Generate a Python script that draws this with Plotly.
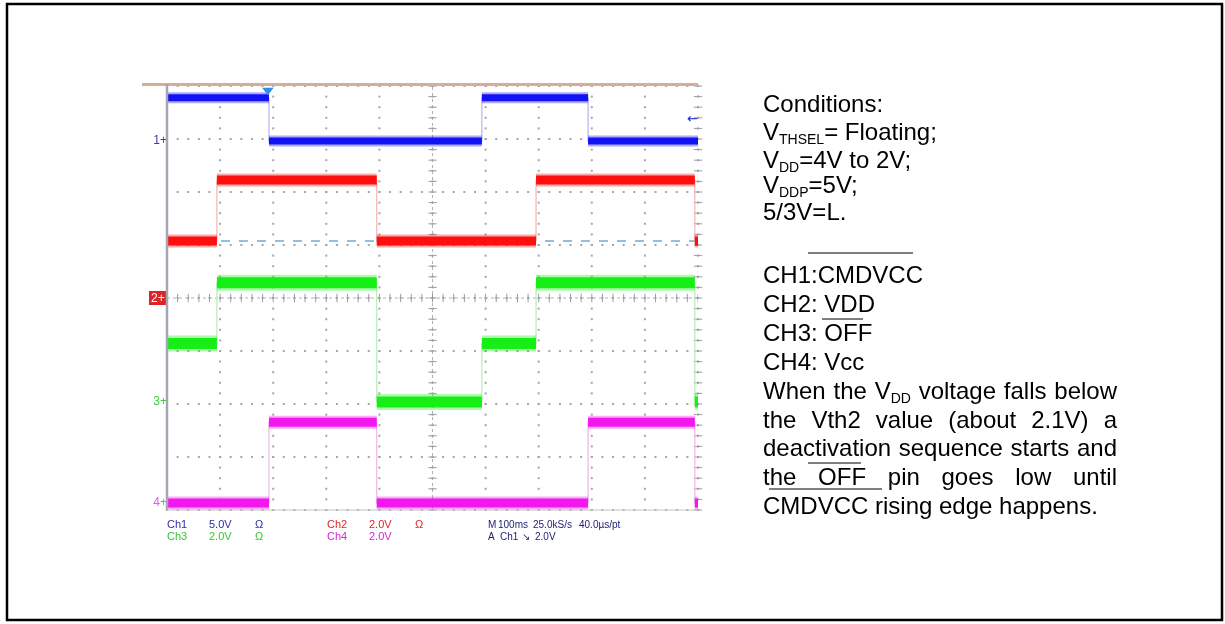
import re
import plotly.graph_objects as go

W, H = 1225, 624

# ---------------- data ----------------
MS_PER_DIV = 100
# segment boundaries (ms) and the level (V) held on each segment
TIME_MS_CH1 = [0, 192, 593, 793, 1000]
CH1_V = [4.1, 0.0, 4.1, 0.0]
TIME_MS_CH2 = [0, 94, 395, 695, 994, 1000]
CH2_V = [2.15, 4.45, 2.15, 4.45, 2.15]
TIME_MS_CH3 = [0, 94, 395, 593, 695, 994, 1000]
CH3_V = [2.2, 4.5, 0.0, 2.2, 4.5, 0.0]
TIME_MS_CH4 = [0, 192, 395, 793, 994, 1000]
CH4_V = [0.0, 3.05, 0.0, 3.05, 0.0]

CHANNELS = ["CH1", "CH2", "CH3", "CH4"]
VOLTS_PER_DIV = [5.0, 2.0, 2.0, 2.0]
OFFSET_DIV = [2.96, 0.0, -1.96, -3.87]
REF_LEVEL_CH2_V = 2.15
TRIGGER_MS = 190
TRIGGER_LEVEL_CH1_V = 2.0

# scope read-out labels: (channel index, [name, scale, coupling])
SCOPE_LABELS = [
    (0, ["Ch1", "5.0V", "Ω"]),
    (1, ["Ch2", "2.0V", "Ω"]),
    (2, ["Ch3", "2.0V", "Ω"]),
    (3, ["Ch4", "2.0V", ""]),
]
TIMEBASE = ["M", "100ms", "25.0kS/s", "40.0µs/pt"]
TRIGGER_TXT = ["A", "Ch1", "↘", "2.0V"]

# "_{...}" marks a subscript
NOTE_LINES = [
    "Conditions:",
    "V_{THSEL}= Floating;",
    "V_{DD}=4V to 2V;",
    "V_{DDP}=5V;",
    "5/3V=L.",
    "CH1:CMDVCC",
    "CH2: VDD",
    "CH3: OFF",
    "CH4: Vcc",
]
JUSTIFIED_LINES = [
    ["When", "the", "V_{DD}", "voltage", "falls", "below"],
    ["the", "Vth2", "value", "(about", "2.1V)", "a"],
    ["deactivation", "sequence", "starts", "and"],
    ["the", "OFF", "pin", "goes", "low", "until"],
]
LAST_LINE = "CMDVCC rising edge happens."

# ---------------- styling ----------------
CORE = ["#1212f2", "#ff0e0e", "#16ee16", "#f416ee"]
EDGE = ["#b4b4ea", "#f2b4b4", "#b4eeb4", "#f0b4ee"]
CORE_W = [7, 9, 11, 9]
HALO_W = [11, 13, 16, 13]
MARK_COL = ["#3b3bc4", "#ffffff", "#3ccf3c", "#e05ee0"]
LBL_COL = ["#2b2bab", "#e02626", "#33c633", "#d624d2"]
LBL_POS = [(167, 528), (327, 528), (167, 540), (327, 540)]
LBL_DX = [0, 42, 88]

X0_PX, X1_PX = 167, 698
Y0_PX, Y1_PX = 86, 510
FONT = "Liberation Sans, Arial, sans-serif"

fig = go.Figure()


def to_div(i, v):
    return OFFSET_DIV[i] + v / VOLTS_PER_DIV[i]


def step_xy(ts, vs, i):
    x, y = [], []
    for k, v in enumerate(vs):
        d = to_div(i, v)
        x += [ts[k], ts[k + 1]]
        y += [d, d]
    return x, y


def flat_xy(ts, vs, i):
    x, y = [], []
    for k, v in enumerate(vs):
        d = to_div(i, v)
        x += [ts[k], ts[k + 1], None]
        y += [d, d, None]
    return x, y


# ---- graticule (dotted grid, 5 dots per division) ----
gx, gy = [], []
for i in range(11):
    for k in range(41):
        gx.append(i * MS_PER_DIV)
        gy.append(-4 + 0.2 * k)
for j in range(9):
    for k in range(51):
        gx.append(k * MS_PER_DIV / 5)
        gy.append(j - 4)
fig.add_trace(go.Scatter(x=gx, y=gy, mode="markers", hoverinfo="skip",
                         marker=dict(symbol="square", size=2, color="#a4a4aa"),
                         cliponaxis=False))
# centre lines: fine dotted line + ticks
fig.add_trace(go.Scatter(x=[0, 1000], y=[0, 0], mode="lines", hoverinfo="skip",
                         line=dict(color="#b0b0b8", width=1, dash="dot")))
fig.add_trace(go.Scatter(x=[500, 500], y=[-4, 4], mode="lines", hoverinfo="skip",
                         line=dict(color="#b0b0b8", width=1, dash="dot")))
fig.add_trace(go.Scatter(x=[k * 20 for k in range(51)], y=[0] * 51, mode="markers",
                         hoverinfo="skip",
                         marker=dict(symbol="line-ns", size=6,
                                     line=dict(color="#9c9ca4", width=1))))
tick_y = [-4 + 0.2 * k for k in range(41)]
fig.add_trace(go.Scatter(x=[500] * 41 + [1000] * 41, y=tick_y + tick_y, mode="markers",
                         hoverinfo="skip", cliponaxis=False,
                         marker=dict(symbol="line-ew", size=6,
                                     line=dict(color="#9c9ca4", width=1))))

# reference dashed level (CH2)
ref_d = to_div(1, REF_LEVEL_CH2_V)
fig.add_trace(go.Scatter(x=[0, 1000], y=[ref_d, ref_d], mode="lines", hoverinfo="skip",
                         line=dict(color="#6fa9d6", width=1.5, dash="dash")))

# ---- waveforms ----
series = [(TIME_MS_CH1, CH1_V), (TIME_MS_CH2, CH2_V), (TIME_MS_CH3, CH3_V), (TIME_MS_CH4, CH4_V)]
for i, (ts, vs) in enumerate(series):
    sx, sy = step_xy(ts, vs, i)
    fig.add_trace(go.Scatter(x=sx, y=sy, mode="lines", name=CHANNELS[i], hoverinfo="skip",
                             line=dict(color=EDGE[i], width=1.2)))
for i, (ts, vs) in enumerate(series):
    fx, fy = flat_xy(ts, vs, i)
    fig.add_trace(go.Scatter(x=fx, y=fy, mode="lines", hoverinfo="skip", opacity=0.35,
                             line=dict(color=CORE[i], width=HALO_W[i])))
    fig.add_trace(go.Scatter(x=fx, y=fy, mode="lines", hoverinfo="skip",
                             line=dict(color=CORE[i], width=CORE_W[i])))

# channel ground markers
for i in [0, 2, 3]:
    fig.add_trace(go.Scatter(x=[0], y=[OFFSET_DIV[i]], mode="text", text=[f"{i + 1}+"],
                             textposition="middle left", cliponaxis=False, hoverinfo="skip",
                             textfont=dict(family=FONT, size=12, color=MARK_COL[i])))

# trigger position / level
fig.add_trace(go.Scatter(x=[TRIGGER_MS], y=[3.92], mode="markers", hoverinfo="skip",
                         cliponaxis=False,
                         marker=dict(symbol="triangle-down", size=10, color="#2f8fe0")))
fig.add_trace(go.Scatter(x=[1000], y=[to_div(0, TRIGGER_LEVEL_CH1_V)], mode="text",
                         text=["←"], textposition="middle left", hoverinfo="skip",
                         cliponaxis=False,
                         textfont=dict(family="DejaVu Sans", size=13, color="#2424c0")))

# ---------------- text in pixel coordinates ----------------
AW = {" ": 278, "a": 556, "b": 556, "c": 500, "d": 556, "e": 556, "f": 278, "g": 556,
      "h": 556, "i": 222, "j": 222, "k": 500, "l": 222, "m": 833, "n": 556, "o": 556,
      "p": 556, "q": 556, "r": 333, "s": 500, "t": 278, "u": 556, "v": 500, "w": 722,
      "x": 500, "y": 500, "z": 500, "A": 667, "B": 667, "C": 722, "D": 722, "E": 667,
      "F": 611, "H": 722, "L": 556, "M": 833, "O": 778, "P": 667, "S": 667, "T": 611,
      "V": 667, "W": 944, ".": 278, ",": 278, ":": 278, ";": 278, "(": 333, ")": 333,
      "=": 584, "/": 278}

FS = 24
SUB_FS = 14
SUB_DROP = 4


def segments(s):
    out = []
    for part in re.split(r"(_\{[^}]*\})", s):
        if not part:
            continue
        if part.startswith("_{"):
            out.append((part[2:-1], True))
        else:
            out.append((part, False))
    return out


def plain_w(s, fs):
    return sum(AW.get(c, 556) for c in s) / 1000 * fs


def rich_w(s):
    return sum(plain_w(t, SUB_FS if sub else FS) for t, sub in segments(s))


def add_text(x, baseline, txt, size, color, family=FONT):
    fig.add_trace(go.Scatter(x=[x], y=[baseline - 0.25 * size], mode="text", text=[txt],
                             textposition="middle right", xaxis="x2", yaxis="y2",
                             hoverinfo="skip", cliponaxis=False,
                             textfont=dict(family=family, size=size, color=color)))


def add_rich(x, baseline, s, color="#000000"):
    for t, sub in segments(s):
        if sub:
            add_text(x, baseline + SUB_DROP, t, SUB_FS, color)
            x += plain_w(t, SUB_FS)
        else:
            add_text(x, baseline, t, FS, color)
            x += plain_w(t, FS)


LX, RX = 763, 1117
NOTE_BASE = [112, 140, 168, 193, 220, 283, 312, 341, 370]
for txt, b in zip(NOTE_LINES, NOTE_BASE):
    add_rich(LX, b, txt)
JUST_BASE = [399, 428, 456, 485]
for words, b in zip(JUSTIFIED_LINES, JUST_BASE):
    ws = [rich_w(w) for w in words]
    gap = (RX - LX - sum(ws)) / (len(words) - 1)
    x = LX
    for w, wd in zip(words, ws):
        add_rich(x, b, w)
        x += wd + gap
add_rich(LX, 514, LAST_LINE)

# scope read-outs
SFS = 11
for ci, items in SCOPE_LABELS:
    x0, base = LBL_POS[ci]
    for t, dx in zip(items, LBL_DX):
        if t:
            add_text(x0 + dx, base, t, SFS, LBL_COL[ci])
for t, xx in zip(TIMEBASE, [488, 498, 533, 579]):
    add_text(xx, 528, t, 10, "#1c1c70")
for t, xx in zip(TRIGGER_TXT, [488, 500, 522, 535]):
    add_text(xx, 540, t, 10, "#1c1c70", family="DejaVu Sans" if t == "↘" else FONT)

# CH2 marker box label
add_text(151, 302, "2+", 12, "#ffffff")

# ---------------- shapes ----------------
shapes = []


def pline(x0, y0, x1, y1, color, width):
    shapes.append(dict(type="line", xref="x2", yref="y2", x0=x0, y0=y0, x1=x1, y1=y1,
                       line=dict(color=color, width=width), layer="above"))


# frame
shapes.append(dict(type="rect", xref="x2", yref="y2", x0=7, y0=4, x1=1222, y1=620,
                   line=dict(color="#000000", width=2.5), layer="above"))
# scope borders
pline(142, 84.5, X1_PX, 84.5, "#d8ac96", 3)
pline(X0_PX, 84, X0_PX, Y1_PX, "#a6a6b0", 2.5)
pline(X0_PX, Y1_PX, X1_PX, Y1_PX, "#c4c4cc", 1)
# CH2 ground marker box
shapes.insert(0, dict(type="rect", xref="x2", yref="y2", x0=149, y0=291, x1=166, y1=305,
                      line=dict(width=0), fillcolor="#dc2424", layer="below"))
# overlines / underline in the note
pline(808, 253, 913, 253, "#000000", 1)
pline(822, 319, 863, 319, "#000000", 1)
pline(808, 463, 861, 463, "#000000", 1)
pline(769, 489, 882, 489, "#000000", 1)

fig.update_layout(
    width=W, height=H, autosize=False,
    margin=dict(l=0, r=0, t=0, b=0),
    paper_bgcolor="#ffffff", plot_bgcolor="rgba(0,0,0,0)",
    showlegend=False,
    shapes=shapes,
    xaxis=dict(domain=[X0_PX / W, X1_PX / W], range=[0, 1000], visible=False,
               fixedrange=True),
    yaxis=dict(domain=[1 - Y1_PX / H, 1 - Y0_PX / H], range=[-4, 4], visible=False,
               fixedrange=True),
    xaxis2=dict(domain=[0, 1], range=[0, W], visible=False, fixedrange=True,
                anchor="y2"),
    yaxis2=dict(domain=[0, 1], range=[H, 0], visible=False, fixedrange=True,
                anchor="x2"),
)

fig.write_html("out.html")
